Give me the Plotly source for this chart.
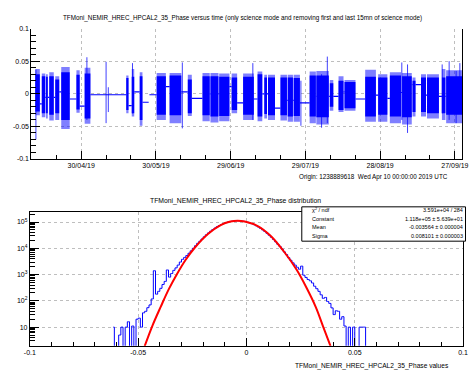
import pandas as pd
import plotly.graph_objects as go

ORIGIN = pd.Timestamp("2019-04-10 00:00:00")

# ---------------- top panel data (days since origin) ----------------
burst_start = [1.6, 4.2, 5.9, 7.2, 9.6, 12.0, 18.1, 21.4, 38.1, 40.3, 43.5, 47.1, 50.3, 55.5, 62.8,
               68.7, 71.9, 75.4, 80.4, 85.0, 90.8, 93.5, 95.0, 100.0, 102.9, 105.3, 111.7, 114.4,
               119.8, 123.3, 125.7, 134.0, 139.2, 143.9, 148.8, 153.0, 156.4, 158.8, 164.8, 166.5]
burst_end = [3.4, 5.6, 6.6, 9.0, 11.2, 15.4, 19.4, 23.7, 39.0, 41.3, 44.6, 47.4, 54.0, 60.2, 64.4,
             71.6, 75.1, 79.5, 82.6, 89.3, 92.7, 94.6, 97.8, 102.6, 105.0, 107.8, 114.2, 119.4,
             121.2, 125.3, 130.1, 138.3, 142.9, 148.4, 152.7, 154.2, 158.4, 163.6, 166.2, 173.5]
core_hi = [0.030, 0.027, 0.026, 0.027, 0.022, 0.033, 0.029, 0.031, 0.024, 0.026, 0.027, 0.015, 0.027,
           0.028, 0.022, 0.027, 0.027, 0.026, 0.025, 0.026, 0.030, 0.025, 0.025, 0.025, 0.025, 0.024,
           0.028, 0.028, 0.016, 0.020, 0.018, 0.026, 0.025, 0.028, 0.027, 0.020, 0.025, 0.025, 0.025, 0.027]
core_lo = [-0.027, -0.030, -0.030, -0.032, -0.030, -0.040, -0.024, -0.038, -0.025, -0.030, -0.040, -0.030,
           -0.032, -0.033, -0.030, -0.033, -0.035, -0.034, -0.025, -0.032, -0.035, -0.031, -0.033, -0.033,
           -0.035, -0.034, -0.035, -0.036, -0.020, -0.025, -0.022, -0.035, -0.032, -0.035, -0.036, -0.028,
           -0.028, -0.030, -0.030, -0.032]
outer_hi = [0.038, 0.031, 0.030, 0.033, 0.027, 0.041, 0.036, 0.040, 0.028, 0.038, 0.033, 0.029, 0.032,
            0.032, 0.029, 0.032, 0.032, 0.031, 0.031, 0.031, 0.034, 0.029, 0.029, 0.029, 0.029, 0.029,
            0.034, 0.035, 0.021, 0.027, 0.021, 0.037, 0.030, 0.033, 0.032, 0.025, 0.030, 0.030, 0.038, 0.036]
outer_lo = [-0.033, -0.036, -0.038, -0.041, -0.040, -0.054, -0.029, -0.046, -0.030, -0.035, -0.049, -0.060,
            -0.040, -0.045, -0.034, -0.042, -0.044, -0.042, -0.030, -0.040, -0.042, -0.038, -0.040, -0.041,
            -0.043, -0.043, -0.045, -0.047, -0.026, -0.028, -0.026, -0.043, -0.043, -0.045, -0.047, -0.035,
            -0.035, -0.038, -0.040, -0.045]
link_level = [-0.0155, -0.0055, -0.0055, -0.0055, 0.003, -0.008, -0.019, -0.0015, -0.018, 0.003, -0.013,
              -0.0015, 0.011, 0.003, -0.007, 0.0, 0.0, 0.011, -0.014, -0.008, 0.0, 0.0, -0.022, -0.010,
              -0.010, -0.014, -0.004, -0.004, -0.004, 0.003, -0.008, -0.002, -0.007, 0.002, 0.014, 0.014,
              -0.002, -0.004, -0.004]

spike_day = [1.84, 22.3, 30.0, 30.9, 40.6, 60.6, 88.9, 108.2, 116.5, 118.8, 148.7, 151.0, 164.9, 167.7, 170.5, 172.0]
spike_hi = [0.037, 0.056, 0.049, 0.010, 0.047, 0.048, 0.047, 0.020, 0.030, 0.057, 0.048, 0.045, 0.045, 0.050, 0.035, 0.047]
spike_lo = [-0.070, -0.040, -0.045, -0.028, -0.030, -0.053, -0.040, -0.049, -0.052, -0.045, -0.040, -0.060, -0.030, -0.040, -0.045, -0.030]

top_yticks = [0.1, 0.05, 0.0, -0.05, -0.1]
top_yticklabels = ["0.1", "0.05", "0", "-0.05", "-0.1"]
date_tick_days = [20, 50, 80, 110, 140, 170]
date_tick_labels = ["30/04/19", "30/05/19", "29/06/19", "29/07/19", "28/08/19", "27/09/19"]

# ---------------- bottom panel data ----------------
hist_first_center = -0.0615
hist_bin_width = 0.001
hist_counts = [10, 0, 0, 5, 10, 0, 10, 16, 0, 11, 0, 20, 22, 10, 35, 40, 55, 70, 118, 1400,
               180, 230, 300, 420, 550, 1500, 800, 1100, 1450, 1800, 2300, 3000, 3800, 4500, 5300,
               6500, 8000, 10000, 12500, 15500, 18500, 22600, 27300, 32700, 38500, 44900, 51800,
               58900, 66400, 73800, 80900, 87900, 94400, 100000, 104700, 108400, 110900, 112000,
               112000, 110400, 107600, 103700, 98700, 92900, 86500, 79600, 72300, 64800, 57500,
               50300, 43600, 37300, 31600, 26400, 21800, 17800, 14300, 11800, 9300, 7300, 5800,
               4400, 3500, 2800, 2300, 1900, 1600, 2100, 950, 780, 650, 580, 480, 360, 290, 230,
               170, 125, 135, 95, 80, 54, 30, 42, 40, 20, 25, 11, 0, 10, 0, 10, 0, 0, 10, 10, 10, 0]

fit_x = [-0.0470, -0.0433, -0.0395, -0.0358, -0.0320, -0.0283, -0.0239, -0.0178, -0.0119, -0.0074,
         -0.0041, -0.0008, 0.0052, 0.0111, 0.0171, 0.0231, 0.0276, 0.0320, 0.0353, 0.0388]
fit_y = [1.9, 12, 62, 285, 1080, 3450, 10500, 35000, 77000, 104000, 112000, 104000, 70000, 30000,
         7900, 1550, 330, 58, 11, 1.9]

hist_xticks = [-0.1, -0.05, 0.0, 0.05, 0.1]
hist_xticklabels = ["-0.1", "-0.05", "0", "0.05", "0.1"]
hist_yticks = [10, 100, 1000, 10000, 100000]
hist_yticklabels = ["10", "10<sup>2</sup>", "10<sup>3</sup>", "10<sup>4</sup>", "10<sup>5</sup>"]

stat_labels = ["\u03c7<sup>2</sup> / ndf", "Constant", "Mean", "Sigma"]
stat_values = ["3.591e+04 / 284", "1.118e+05 \u00b1 5.639e+01", "-0.003564 \u00b1 0.000004", "0.008101 \u00b1 0.000003"]

title_top = "TFMoni_NEMIR_HREC_HPCAL2_35_Phase versus time (only science mode and removing first and last 15mn of science mode)"
title_bottom = "TFMoni_NEMIR_HREC_HPCAL2_35_Phase distribution"
xtitle_bottom = "TFMoni_NEMIR_HREC_HPCAL2_35_Phase values"
origin_text = "Origin: 1238889618  Wed Apr 10 00:00:00 2019 UTC"

FONT = "Liberation Sans, Arial, Helvetica, sans-serif"
W, H = 472, 374


def to_date(d):
    return ORIGIN + pd.to_timedelta(d, unit="D")


def rects(lo_list, hi_list):
    xs, ys = [], []
    for s, e, lo, hi in zip(burst_start, burst_end, lo_list, hi_list):
        xs += [to_date(s), to_date(s), to_date(e), to_date(e), to_date(s), None]
        ys += [lo, hi, hi, lo, lo, None]
    return xs, ys


fig = go.Figure()

# connecting lines between bursts
lx, ly = [], []
for i, lvl in enumerate(link_level):
    lx += [to_date(burst_end[i]), to_date(burst_start[i + 1]), None]
    ly += [lvl, lvl, None]
fig.add_trace(go.Scatter(x=lx, y=ly, mode="lines", line=dict(color="rgb(0,0,255)", width=1.2),
                         xaxis="x", yaxis="y", hoverinfo="skip"))

ox, oy = rects(outer_lo, outer_hi)
fig.add_trace(go.Scatter(x=ox, y=oy, mode="lines", fill="toself", fillcolor="rgba(0,0,255,0.5)",
                         line=dict(width=0), xaxis="x", yaxis="y", hoverinfo="skip"))
cx, cy = rects(core_lo, core_hi)
fig.add_trace(go.Scatter(x=cx, y=cy, mode="lines", fill="toself", fillcolor="rgb(0,0,255)",
                         line=dict(width=0), xaxis="x", yaxis="y", hoverinfo="skip"))

sx, sy = [], []
for d, hi, lo in zip(spike_day, spike_hi, spike_lo):
    sx += [to_date(d), to_date(d), None]
    sy += [lo, hi, None]
fig.add_trace(go.Scatter(x=sx, y=sy, mode="lines", line=dict(color="rgba(0,0,255,0.75)", width=1),
                         xaxis="x", yaxis="y", hoverinfo="skip"))

# histogram
plot_counts = [c if c > 0 else 0.3 for c in hist_counts]
fig.add_trace(go.Scatter(x0=hist_first_center, dx=hist_bin_width, y=plot_counts, mode="lines",
                         line=dict(color="rgb(0,0,255)", width=1, shape="hvh"),
                         xaxis="x2", yaxis="y2", hoverinfo="skip"))
fig.add_trace(go.Scatter(x=fit_x, y=fit_y, mode="lines", line=dict(color="rgb(255,0,0)", width=2, shape="spline"),
                         xaxis="x2", yaxis="y2", hoverinfo="skip"))

TICKFONT = dict(family=FONT, size=7, color="black")
axis_common = dict(showline=True, linecolor="black", linewidth=1, ticks="inside", tickcolor="black",
                   tickfont=TICKFONT, showgrid=True, ticklabeloverflow="allow",
                   gridcolor="rgb(190,190,190)", griddash="dot", gridwidth=1, zeroline=False)

fig.update_layout(
    width=W, height=H, margin=dict(l=0, r=0, t=0, b=0),
    paper_bgcolor="white", plot_bgcolor="white", showlegend=False, hovermode=False,
    font=dict(family=FONT, size=7, color="black"),
    xaxis=dict(axis_common, domain=[26 / W, 468 / W], anchor="y", type="date",
               range=[to_date(0), to_date(172.9)], mirror=False,
               tickmode="array", tickvals=[to_date(d) for d in date_tick_days], ticktext=date_tick_labels,
               ticklen=8, minor=dict(ticks="inside", ticklen=4, tickcolor="black", dtick=10 * 86400000,
                                     tick0=to_date(0), showgrid=False)),
    yaxis=dict(axis_common, domain=[1 - 158 / H, 1 - 25 / H], anchor="x", range=[-0.1, 0.1], mirror=True,
               tickmode="array", tickvals=top_yticks, ticktext=top_yticklabels, ticklen=9,
               minor=dict(ticks="inside", ticklen=5, tickcolor="black", dtick=0.01, showgrid=False)),
    xaxis2=dict(axis_common, domain=[24.5 / W, 469 / W], anchor="y2", range=[-0.1, 0.1], mirror=True,
                tickmode="array", tickvals=hist_xticks, ticktext=hist_xticklabels, ticklen=8,
                minor=dict(ticks="inside", ticklen=4, tickcolor="black", dtick=0.01, showgrid=False)),
    yaxis2=dict(axis_common, domain=[1 - 348.3 / H, 1 - 212.3 / H], anchor="x2", type="log",
                range=[0.29, 5.37], mirror=True, tickmode="array", tickvals=hist_yticks,
                ticktext=hist_yticklabels, ticklen=9,
                minor=dict(ticks="inside", ticklen=5, tickcolor="black", dtick="D1", showgrid=False)),
)

ann = []
ann.append(dict(text=title_top, x=242.5 / W, y=1 - 14 / H, xref="paper", yref="paper",
                xanchor="center", yanchor="middle", showarrow=False, font=dict(family=FONT, size=6.3)))
ann.append(dict(text=origin_text, x=456 / W, y=1 - 176.7 / H, xref="paper", yref="paper",
                xanchor="right", yanchor="middle", showarrow=False, font=dict(family=FONT, size=6.3)))
ann.append(dict(text=title_bottom, x=235 / W, y=1 - 200.7 / H, xref="paper", yref="paper",
                xanchor="center", yanchor="middle", showarrow=False, font=dict(family=FONT, size=6.8)))
ann.append(dict(text=xtitle_bottom, x=456.7 / W, y=1 - 369 / H, xref="paper", yref="paper",
                xanchor="right", yanchor="middle", showarrow=False, font=dict(family=FONT, size=6.6)))

row_y = [210, 219.3, 227.7, 236]
for lab, val, yy in zip(stat_labels, stat_values, row_y):
    ann.append(dict(text=lab, x=311.5 / W, y=1 - yy / H, xref="paper", yref="paper", xanchor="left",
                    yanchor="middle", showarrow=False, font=dict(family=FONT, size=5.5)))
    ann.append(dict(text=val, x=470.5 / W, y=1 - yy / H, xref="paper", yref="paper", xanchor="right",
                    yanchor="middle", showarrow=False, font=dict(family=FONT, size=5.5)))
fig.update_layout(annotations=ann)

fig.add_shape(type="rect", xref="paper", yref="paper", x0=303.5 / W, x1=471.5 / W,
              y0=1 - 241.7 / H, y1=1 - 206.7 / H, line=dict(color="black", width=1),
              fillcolor="white", layer="above")

fig.write_html("out.html", config={"displayModeBar": False})
